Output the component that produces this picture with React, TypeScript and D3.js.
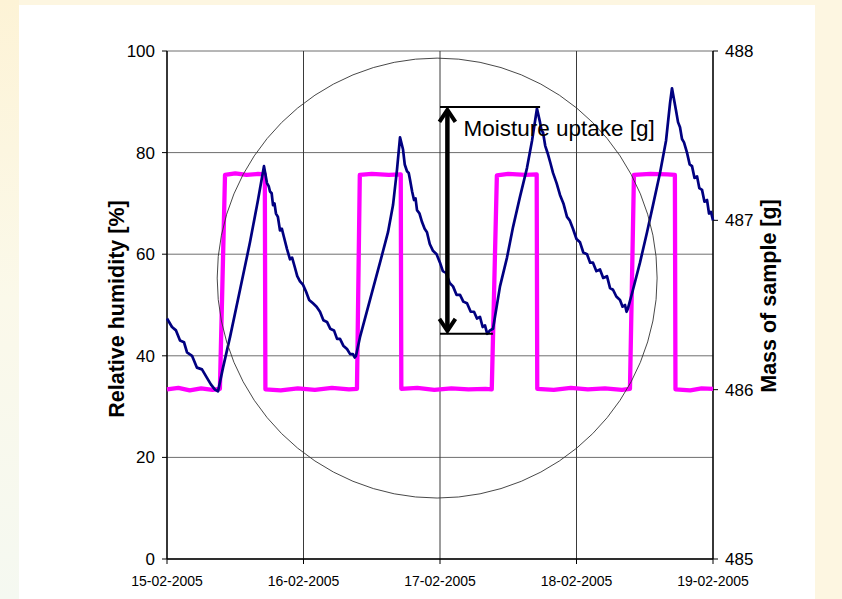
import React from 'react';
import * as d3 from 'd3';

// hours after 15-02-2005 00:00
const rhHours = [0, 2, 4, 6, 8, 9.3, 10.2, 12, 14, 16, 17.2, 17.3, 20, 23, 26, 29, 32, 33.4, 33.9, 36, 39, 41.1, 41.2, 44, 47, 50, 53, 56, 57.1, 58.0, 60, 63, 65.0, 65.1, 68, 71, 74, 77, 80, 81.4, 82.1, 85, 88, 89.3, 89.4, 92, 94, 96];
const rhValues = [33.4, 33.7, 33.2, 33.6, 33.3, 33.5, 75.6, 75.9, 75.6, 75.8, 75.7, 33.4, 33.2, 33.6, 33.3, 33.7, 33.4, 33.5, 75.6, 75.8, 75.6, 75.7, 33.5, 33.7, 33.3, 33.6, 33.4, 33.5, 33.4, 75.5, 75.8, 75.6, 75.7, 33.5, 33.3, 33.7, 33.4, 33.6, 33.3, 33.5, 75.6, 75.8, 75.7, 75.6, 33.4, 33.2, 33.6, 33.5];

const massHours = [0, 0.88, 1.58, 2.29, 2.99, 3.52, 4.40, 5.27, 6.15, 7.03, 7.74, 8.44, 8.97,
  9.85, 11.08, 12.84, 14.59, 16.00, 17.05,
  17.58, 17.9, 18.11, 18.4, 18.64, 18.9, 19.16, 19.5, 19.87, 20.2, 20.57, 21.1, 21.63, 22.0, 22.50, 22.9, 23.38, 23.9, 24.44, 25.0, 25.67, 26.3, 26.90, 27.5, 28.13, 28.7, 29.36, 29.9, 30.42, 31.0, 31.65, 32.2, 32.70, 33.0, 33.23,
  33.93, 35.69, 37.45, 38.86, 39.74, 40.44, 40.97,
  41.49, 41.8, 42.20, 42.5, 42.73, 43.1, 43.43, 43.7, 43.96, 44.4, 44.84, 45.3, 45.71, 46.2, 46.77, 47.4, 48.00, 48.5, 49.05, 49.7, 50.29, 50.9, 51.52, 52.1, 52.75, 53.4, 53.98, 54.5, 55.03, 55.5, 55.91, 56.3, 56.79,
  57.32, 58.55, 59.78, 60.84, 62.07, 63.30, 64.18, 65.05,
  65.58, 65.85, 66.11, 66.5, 66.99, 67.4, 67.87, 68.5, 69.10, 69.7, 70.33, 70.8, 71.38, 72.0, 72.62, 73.2, 73.85, 74.4, 74.90, 75.5, 76.13, 76.7, 77.36, 77.9, 78.42, 79.0, 79.65, 80.1, 80.53, 80.8, 81.05,
  81.93, 83.16, 84.40, 85.45, 86.68, 87.74, 88.44, 88.79,
  89.49, 89.85, 90.20, 90.55, 90.90, 91.43, 91.9, 92.31, 92.75, 93.19, 93.6, 94.07, 94.5, 94.95, 95.3, 95.65, 96.0];
const massValues = [486.42, 486.37, 486.35, 486.29, 486.28, 486.22, 486.20, 486.13, 486.12, 486.07, 486.03, 486.00, 485.99,
  486.13, 486.31, 486.59, 486.87, 487.12, 487.32,
  487.22, 487.20, 487.17, 487.16, 487.09, 487.10, 487.04, 487.02, 486.94, 486.95, 486.90, 486.83, 486.77, 486.78, 486.72, 486.67, 486.64, 486.62, 486.58, 486.53, 486.51, 486.49, 486.46, 486.41, 486.40, 486.36, 486.35, 486.30, 486.30, 486.26, 486.24, 486.21, 486.21, 486.19, 486.20,
  486.31, 486.53, 486.75, 486.93, 487.09, 487.30, 487.49,
  487.42, 487.33, 487.29, 487.28, 487.24, 487.17, 487.12, 487.13, 487.06, 487.04, 486.99, 486.95, 486.93, 486.86, 486.82, 486.80, 486.75, 486.70, 486.69, 486.63, 486.61, 486.56, 486.56, 486.52, 486.51, 486.46, 486.46, 486.42, 486.43, 486.37, 486.38, 486.33, 486.35,
  486.36, 486.61, 486.78, 486.96, 487.14, 487.31, 487.47, 487.66,
  487.58, 487.53, 487.52, 487.44, 487.39, 487.34, 487.28, 487.22, 487.15, 487.10, 487.02, 487.00, 486.95, 486.89, 486.87, 486.81, 486.80, 486.75, 486.75, 486.70, 486.71, 486.66, 486.67, 486.60, 486.59, 486.55, 486.53, 486.49, 486.50, 486.46, 486.48,
  486.59, 486.75, 486.93, 487.09, 487.28, 487.47, 487.69, 487.78,
  487.65, 487.58, 487.55, 487.48, 487.46, 487.40, 487.33, 487.32, 487.25, 487.26, 487.19, 487.18, 487.11, 487.12, 487.04, 487.05, 487.00];

const dayTicks = ['15-02-2005', '16-02-2005', '17-02-2005', '18-02-2005', '19-02-2005'];
const rhTicks = [0, 20, 40, 60, 80, 100];
const massTicks = [485, 486, 487, 488];

// annotation: uptake between trough of cycle 2 and peak of cycle 3
const uptakeHour = 49.3;
const uptakeTop = 487.67;
const uptakeBottom = 486.33;
const uptakeTopEndHour = 65.6;
const uptakeBottomEndHour = 57.3;
// circle around the middle cycles
const circleHour = 47.5;
const circleRh = 55.3;
const circleRadiusRh = 43.3;

const parseDay = d3.timeParse('%d-%m-%Y');
const start = parseDay(dayTicks[0]) as Date;
const toDate = (h: number) => new Date(start.getTime() + h * 3600e3);

const W = 842;
const H = 599;
const left = 167, right = 713, top = 51, bottom = 559;

export default function App() {
  const x = d3.scaleTime()
    .domain([start, parseDay(dayTicks[dayTicks.length - 1]) as Date])
    .range([left, right]);
  const yRh = d3.scaleLinear().domain([0, 100]).range([bottom, top]);
  const yMass = d3.scaleLinear().domain([485, 488]).range([bottom, top]);

  const rhLine = d3.line<number>()
    .x((h) => x(toDate(h)))
    .y((_, i) => yRh(rhValues[i]));
  const massLine = d3.line<number>()
    .x((h) => x(toDate(h)))
    .y((_, i) => yMass(massValues[i]));

  const font = '"Liberation Sans", Arial, sans-serif';
  const ax = x(toDate(uptakeHour));
  const ay1 = yMass(uptakeTop);
  const ay2 = yMass(uptakeBottom);
  const cx = x(toDate(circleHour));
  const cy = yRh(circleRh);
  const r = yRh(0) - yRh(circleRadiusRh);

  return (
    <svg width={W} height={H} style={{ position: 'absolute', left: 0, top: 0 }} fontFamily={font}>
      <defs>
        <linearGradient id="leftBand" x1="0" y1="0" x2="0" y2="1">
          <stop offset="0" stopColor="#fdf3d6" />
          <stop offset="0.5" stopColor="#fbf9ea" />
          <stop offset="1" stopColor="#f5f9f1" />
        </linearGradient>
      </defs>
      <rect width={W} height={H} fill="#fdf6e1" />
      <rect x={0} y={0} width={19} height={H} fill="url(#leftBand)" />
      <rect x={19} y={5} width={796} height={H} fill="#ffffff" />

      {/* grid */}
      {rhTicks.map((t) => (
        <line key={'h' + t} x1={left} x2={right} y1={yRh(t)} y2={yRh(t)} stroke="#6e6e6e" strokeWidth={1} />
      ))}
      {dayTicks.map((d) => {
        const xx = x(parseDay(d) as Date);
        return <line key={'v' + d} x1={xx} x2={xx} y1={top} y2={bottom} stroke="#3a3a3a" strokeWidth={1} />;
      })}

      {/* axes */}
      <line x1={left} x2={left} y1={top} y2={bottom} stroke="#000" strokeWidth={1.3} />
      <line x1={right} x2={right} y1={top} y2={bottom} stroke="#000" strokeWidth={1.3} />
      <line x1={left} x2={right} y1={bottom} y2={bottom} stroke="#000" strokeWidth={1.3} />
      {rhTicks.map((t) => (
        <g key={'lt' + t}>
          <line x1={left - 5} x2={left} y1={yRh(t)} y2={yRh(t)} stroke="#000" />
          <text x={left - 12} y={yRh(t) + 6} textAnchor="end" fontSize={17}>{t}</text>
        </g>
      ))}
      {massTicks.map((t) => (
        <g key={'rt' + t}>
          <line x1={right} x2={right + 5} y1={yMass(t)} y2={yMass(t)} stroke="#000" />
          <text x={right + 12} y={yMass(t) + 6} fontSize={17}>{t}</text>
        </g>
      ))}
      {dayTicks.map((d) => {
        const xx = x(parseDay(d) as Date);
        return (
          <g key={'xt' + d}>
            <line x1={xx} x2={xx} y1={bottom} y2={bottom + 5} stroke="#000" />
            <text x={xx} y={bottom + 27} textAnchor="middle" fontSize={14}>{d}</text>
          </g>
        );
      })}

      <text transform={`translate(124,${(top + bottom) / 2 + 4}) rotate(-90)`} textAnchor="middle" fontSize={21.5} fontWeight="bold">Relative humidity [%]</text>
      <text transform={`translate(776,${(top + bottom) / 2 - 9}) rotate(-90)`} textAnchor="middle" fontSize={21.5} fontWeight="bold">Mass of sample [g]</text>

      {/* series */}
      <path d={rhLine(rhHours) || ''} fill="none" stroke="#ff00ff" strokeWidth={4.3} strokeLinejoin="round" />
      <path d={massLine(massHours) || ''} fill="none" stroke="#000080" strokeWidth={2.7} strokeLinejoin="round" />

      {/* annotations */}
      <circle cx={cx} cy={cy} r={r} fill="none" stroke="#333" strokeWidth={0.9} />
      <line x1={x(toDate(uptakeHour - 1.3))} x2={x(toDate(uptakeTopEndHour))} y1={ay1} y2={ay1} stroke="#000" strokeWidth={2} />
      <line x1={x(toDate(uptakeHour - 1.3))} x2={x(toDate(uptakeBottomEndHour))} y1={ay2} y2={ay2} stroke="#000" strokeWidth={2} />
      <line x1={ax} x2={ax} y1={ay1 + 3} y2={ay2 - 3} stroke="#000" strokeWidth={4.5} />
      <polyline points={`${ax - 8},${ay1 + 15} ${ax},${ay1 + 3} ${ax + 8},${ay1 + 15}`} fill="none" stroke="#000" strokeWidth={4} />
      <polyline points={`${ax - 8},${ay2 - 15} ${ax},${ay2 - 3} ${ax + 8},${ay2 - 15}`} fill="none" stroke="#000" strokeWidth={4} />
      <text x={ax + 16} y={ay1 + 29} fontSize={22.5}>Moisture uptake [g]</text>
    </svg>
  );
}
